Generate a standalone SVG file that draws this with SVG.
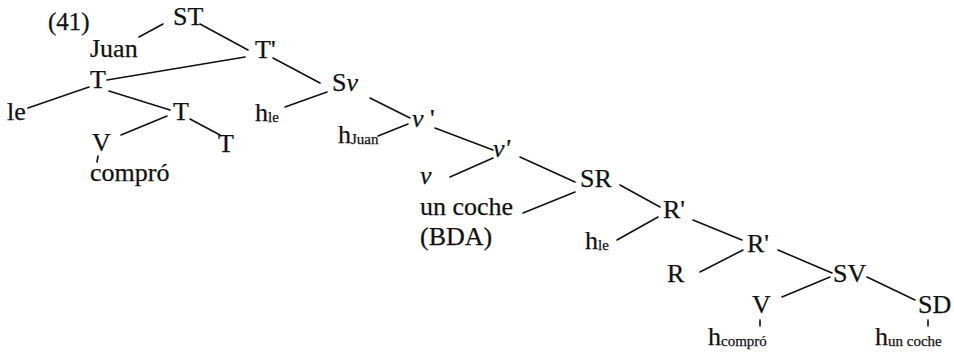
<svg xmlns="http://www.w3.org/2000/svg" width="954" height="352" viewBox="0 0 954 352">
<style>
.sub{font-size:15px}
.it{font-style:italic}
#edges line{stroke:#111;stroke-width:1.6;stroke-linecap:round}
</style>
<rect width="954" height="352" fill="#fff"/>
<g font-family="Liberation Serif, serif" font-size="26" fill="#111" stroke="#111" stroke-width="0.25">
<text x="48" y="30" font-size="25">(41)</text>
<g id="edges">
<line x1="163" y1="24" x2="139" y2="37"/>
<line x1="200" y1="24" x2="248" y2="50"/>
<line x1="245" y1="57" x2="107" y2="80"/>
<line x1="89" y1="87" x2="28" y2="108"/>
<line x1="109" y1="91" x2="170" y2="110"/>
<line x1="167" y1="116" x2="121" y2="135"/>
<line x1="190" y1="119" x2="220" y2="135"/>
<line x1="98" y1="156" x2="97" y2="162"/>
<line x1="273" y1="58" x2="320" y2="83"/>
<line x1="285" y1="107" x2="327" y2="92"/>
<line x1="370" y1="98" x2="410" y2="118"/>
<line x1="378" y1="136" x2="408" y2="124"/>
<line x1="435" y1="128" x2="493" y2="150"/>
<line x1="450" y1="177" x2="493" y2="158"/>
<line x1="520" y1="157" x2="575" y2="182"/>
<line x1="523" y1="213" x2="575" y2="192"/>
<line x1="620" y1="185" x2="660" y2="207"/>
<line x1="617" y1="240" x2="658" y2="217"/>
<line x1="693" y1="220" x2="742" y2="240"/>
<line x1="700" y1="272" x2="743" y2="250"/>
<line x1="778" y1="250" x2="832" y2="273"/>
<line x1="830" y1="277" x2="782" y2="297"/>
<line x1="867" y1="277" x2="915" y2="300"/>
<line x1="760" y1="320" x2="760" y2="326"/>
<line x1="928" y1="320" x2="928" y2="326"/>
</g>
<g id="n-ST"><text x="173" y="25">ST</text></g>
<g id="n-Juan"><text x="90" y="57">Juan</text></g>
<g id="n-Tbar"><text x="255" y="58">T'</text></g>
<g id="n-T1"><text x="90" y="88">T</text></g>
<g id="n-le"><text x="7" y="120">le</text></g>
<g id="n-T2"><text x="173" y="120">T</text></g>
<g id="n-hle1"><text x="255" y="121">h<tspan class="sub" dy="1">le</tspan></text></g>
<g id="n-V1"><text x="92" y="151">V</text></g>
<g id="n-T3"><text x="218" y="152">T</text></g>
<g id="n-compro"><text x="90" y="181">compró</text></g>
<g id="n-Sv"><text x="332" y="91">S<tspan class="it">v</tspan></text></g>
<g id="n-vbar1"><text x="412" y="127"><tspan class="it">v</tspan> '</text></g>
<g id="n-hJuan"><text x="338" y="143">h<tspan class="sub" dy="1" font-size="13">Juan</tspan></text></g>
<g id="n-vbar2"><text x="493" y="157" class="it">v'</text></g>
<g id="n-v"><text x="420" y="184" class="it">v</text></g>
<g id="n-SR"><text x="580" y="187">SR</text></g>
<g id="n-uncoche"><text x="420" y="215">un coche</text><text x="420" y="245">(BDA)</text></g>
<g id="n-Rbar1"><text x="663" y="218">R'</text></g>
<g id="n-hle2"><text x="585" y="249">h<tspan class="sub" dy="1">le</tspan></text></g>
<g id="n-Rbar2"><text x="747" y="252">R'</text></g>
<g id="n-R"><text x="667" y="282">R</text></g>
<g id="n-SV"><text x="833" y="282">SV</text></g>
<g id="n-V2"><text x="752" y="313">V</text></g>
<g id="n-SD"><text x="918" y="313">SD</text></g>
<g id="n-hcompro"><text x="708" y="345">h<tspan class="sub" dy="1">compró</tspan></text></g>
<g id="n-hcoche"><text x="875" y="345">h<tspan class="sub" dy="1" font-size="16">un coche</tspan></text></g>
</g>
</svg>
